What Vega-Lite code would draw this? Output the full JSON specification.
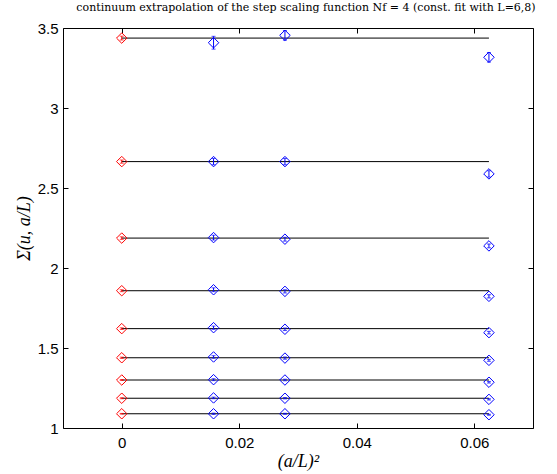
{
  "$schema": "https://vega.github.io/schema/vega-lite/v6.json",
  "width": 470,
  "height": 400,
  "autosize": "none",
  "padding": {"left": 63, "top": 28, "right": 24, "bottom": 46},
  "background": "white",
  "config": {
    "view": {"stroke": "black", "strokeWidth": 1},
    "axis": {"grid": false, "domainColor": "black", "tickColor": "black", "labelColor": "black", "titleColor": "black"}
  },
  "title": {
    "text": "continuum extrapolation of the step scaling function Nf = 4 (const. fit with L=6,8)",
    "font": "DejaVu Serif",
    "fontSize": 11,
    "fontWeight": "normal",
    "color": "black",
    "anchor": "middle",
    "offset": 8,
    "dx": 8
  },
  "datasets": {
    "fits": [
      {"g": 1, "x0": 0, "x1": 0.0625, "y": 3.437},
      {"g": 2, "x0": 0, "x1": 0.0625, "y": 2.665},
      {"g": 3, "x0": 0, "x1": 0.0625, "y": 2.187},
      {"g": 4, "x0": 0, "x1": 0.0625, "y": 1.858},
      {"g": 5, "x0": 0, "x1": 0.0625, "y": 1.621},
      {"g": 6, "x0": 0, "x1": 0.0625, "y": 1.439},
      {"g": 7, "x0": 0, "x1": 0.0625, "y": 1.300},
      {"g": 8, "x0": 0, "x1": 0.0625, "y": 1.186},
      {"g": 9, "x0": 0, "x1": 0.0625, "y": 1.089}
    ],
    "pts": [
      {"g": 1, "x": 0, "y": 3.437, "e": 0.012, "c": "cont"},
      {"g": 1, "x": 0.015625, "y": 3.408, "e": 0.04, "c": "lat"},
      {"g": 1, "x": 0.027778, "y": 3.454, "e": 0.03, "c": "lat"},
      {"g": 1, "x": 0.0625, "y": 3.317, "e": 0.03, "c": "lat"},
      {"g": 2, "x": 0, "y": 2.665, "e": 0.01, "c": "cont"},
      {"g": 2, "x": 0.015625, "y": 2.665, "e": 0.02, "c": "lat"},
      {"g": 2, "x": 0.027778, "y": 2.665, "e": 0.02, "c": "lat"},
      {"g": 2, "x": 0.0625, "y": 2.588, "e": 0.02, "c": "lat"},
      {"g": 3, "x": 0, "y": 2.187, "e": 0.008, "c": "cont"},
      {"g": 3, "x": 0.015625, "y": 2.19, "e": 0.015, "c": "lat"},
      {"g": 3, "x": 0.027778, "y": 2.18, "e": 0.012, "c": "lat"},
      {"g": 3, "x": 0.0625, "y": 2.138, "e": 0.012, "c": "lat"},
      {"g": 4, "x": 0, "y": 1.858, "e": 0.006, "c": "cont"},
      {"g": 4, "x": 0.015625, "y": 1.864, "e": 0.012, "c": "lat"},
      {"g": 4, "x": 0.027778, "y": 1.854, "e": 0.01, "c": "lat"},
      {"g": 4, "x": 0.0625, "y": 1.823, "e": 0.01, "c": "lat"},
      {"g": 5, "x": 0, "y": 1.621, "e": 0.005, "c": "cont"},
      {"g": 5, "x": 0.015625, "y": 1.627, "e": 0.01, "c": "lat"},
      {"g": 5, "x": 0.027778, "y": 1.617, "e": 0.008, "c": "lat"},
      {"g": 5, "x": 0.0625, "y": 1.596, "e": 0.008, "c": "lat"},
      {"g": 6, "x": 0, "y": 1.439, "e": 0.004, "c": "cont"},
      {"g": 6, "x": 0.015625, "y": 1.444, "e": 0.008, "c": "lat"},
      {"g": 6, "x": 0.027778, "y": 1.437, "e": 0.007, "c": "lat"},
      {"g": 6, "x": 0.0625, "y": 1.423, "e": 0.006, "c": "lat"},
      {"g": 7, "x": 0, "y": 1.300, "e": 0.003, "c": "cont"},
      {"g": 7, "x": 0.015625, "y": 1.302, "e": 0.006, "c": "lat"},
      {"g": 7, "x": 0.027778, "y": 1.300, "e": 0.005, "c": "lat"},
      {"g": 7, "x": 0.0625, "y": 1.286, "e": 0.005, "c": "lat"},
      {"g": 8, "x": 0, "y": 1.186, "e": 0.003, "c": "cont"},
      {"g": 8, "x": 0.015625, "y": 1.188, "e": 0.005, "c": "lat"},
      {"g": 8, "x": 0.027778, "y": 1.186, "e": 0.004, "c": "lat"},
      {"g": 8, "x": 0.0625, "y": 1.179, "e": 0.004, "c": "lat"},
      {"g": 9, "x": 0, "y": 1.089, "e": 0.002, "c": "cont"},
      {"g": 9, "x": 0.015625, "y": 1.089, "e": 0.004, "c": "lat"},
      {"g": 9, "x": 0.027778, "y": 1.089, "e": 0.003, "c": "lat"},
      {"g": 9, "x": 0.0625, "y": 1.083, "e": 0.003, "c": "lat"}
    ]
  },
  "layer": [
    {
      "data": {"name": "fits"},
      "mark": {"type": "rule", "color": "black", "strokeWidth": 1},
      "encoding": {
        "x": {"field": "x0", "type": "quantitative",
              "scale": {"domain": [-0.01, 0.07], "nice": false, "zero": false},
              "axis": {"orient": "top", "labels": false, "title": null, "values": [0, 0.02, 0.04, 0.06], "tickSize": -5, "domain": false}},
        "x2": {"field": "x1"},
        "y": {"field": "y", "type": "quantitative",
              "scale": {"domain": [1, 3.5], "nice": false, "zero": false},
              "axis": {"orient": "right", "labels": false, "title": null, "values": [1, 1.5, 2, 2.5, 3, 3.5], "tickSize": -5, "domain": false}}
      }
    },
    {
      "data": {"name": "pts"},
      "mark": {"type": "errorbar", "ticks": {"size": 4}, "thickness": 1},
      "encoding": {
        "x": {"field": "x", "type": "quantitative",
              "axis": {"orient": "bottom", "values": [0, 0.02, 0.04, 0.06], "format": "~g", "tickSize": -5, "labelPadding": 12,
                       "labelFont": "Liberation Sans", "labelFontSize": 15, "domain": false,
                       "title": "(a/L)²", "titleFont": "Liberation Serif", "titleFontStyle": "italic", "titleFontWeight": "normal", "titleFontSize": 18, "titlePadding": 2}},
        "y": {"field": "y", "type": "quantitative",
              "axis": {"orient": "left", "values": [1, 1.5, 2, 2.5, 3, 3.5], "format": "~g", "tickSize": -5, "labelPadding": 10,
                       "labelFont": "Liberation Sans", "labelFontSize": 15, "domain": false,
                       "title": "Σ(u, a/L)", "titleFont": "Liberation Serif", "titleFontStyle": "italic", "titleFontWeight": "normal", "titleFontSize": 18, "titlePadding": 4}},
        "yError": {"field": "e"},
        "color": {"field": "c", "type": "nominal", "scale": {"domain": ["cont", "lat"], "range": ["#ff0000", "#0000ff"]}, "legend": null}
      }
    },
    {
      "data": {"name": "pts"},
      "mark": {"type": "point", "shape": "diamond", "filled": false, "size": 110, "strokeWidth": 1, "opacity": 1},
      "encoding": {
        "x": {"field": "x", "type": "quantitative", "axis": null},
        "y": {"field": "y", "type": "quantitative", "axis": null},
        "color": {"field": "c", "type": "nominal", "scale": {"domain": ["cont", "lat"], "range": ["#ff0000", "#0000ff"]}, "legend": null}
      }
    }
  ],
  "resolve": {"axis": {"x": "independent", "y": "independent"}}
}
